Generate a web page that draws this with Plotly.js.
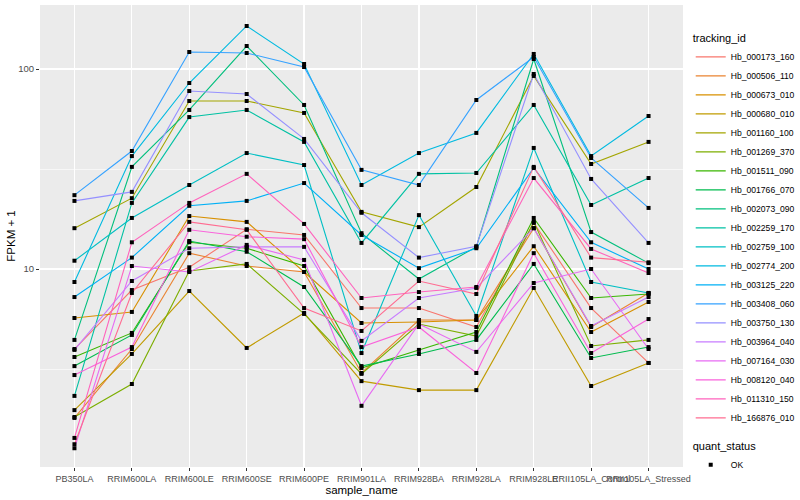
<!DOCTYPE html>
<html>
<head>
<meta charset="utf-8">
<script src="https://cdn.plot.ly/plotly-3.0.1.min.js"></script>
<style>html,body{margin:0;padding:0;background:#fff;}#chart{width:800px;height:500px;}</style>
</head>
<body>
<div id="chart"></div>
<script>
const categories = ['PB350LA','RRIM600LA','RRIM600LE','RRIM600SE','RRIM600PE','RRIM901LA','RRIM928BA','RRIM928LA','RRIM928LE','RRII105LA_Control','RRII105LA_Stressed'];

const trackingIds = ['Hb_000173_160','Hb_000506_110','Hb_000673_010','Hb_000680_010','Hb_001160_100','Hb_001269_370','Hb_001511_090','Hb_001766_070','Hb_002073_090','Hb_002259_170','Hb_002759_100','Hb_002774_200','Hb_003125_220','Hb_003408_060','Hb_003750_130','Hb_003964_040','Hb_007164_030','Hb_008120_040','Hb_011310_150','Hb_166876_010'];

const colors = ['#F8766D','#EA8331','#D89000','#C09B00','#A3A500','#7CAE00','#39B600','#00BB4E','#00BF7D','#00C1A3','#00BFC4','#00BAE0','#00B0F6','#35A2FF','#9590FF','#C77CFF','#E76BF3','#FA62DB','#FF62BC','#FF6C91'];

// FPKM + 1 values, one array per tracking_id, in category order
const hb_000173_160 = [3.98, 7.85, 10.2, 15.8, 14.8, 6.38, 6.38, 5.13, 17.0, 6.38, 3.39];
const hb_000506_110 = [1.80, 3.98, 12.0, 10.35, 9.66, 3.02, 5.56, 5.56, 16.0, 5.13, 7.59];
const hb_000673_010 = [5.69, 6.10, 18.4, 17.2, 9.66, 5.37, 5.43, 5.56, 13.0, 4.84, 6.84];
const hb_000680_010 = [1.97, 3.76, 7.76, 4.03, 6.03, 2.75, 2.48, 2.48, 8.04, 2.60, 3.39];
const hb_001160_100 = [16.0, 22.6, 69.2, 69.2, 60.3, 19.3, 16.2, 25.7, 92.3, 33.5, 43.2];
const hb_001269_370 = [1.82, 2.66, 9.77, 10.6, 5.96, 2.99, 5.31, 4.62, 17.2, 4.12, 4.42];
const hb_001511_090 = [3.63, 4.79, 13.6, 12.7, 10.35, 3.20, 3.94, 4.84, 18.0, 7.16, 7.50];
const hb_001766_070 = [3.27, 4.68, 13.8, 12.2, 8.13, 3.27, 3.76, 4.42, 10.6, 3.59, 4.07];
const hb_002073_090 = [4.42, 32.4, 62.4, 130.3, 66.1, 15.1, 8.91, 12.9, 112.2, 15.3, 10.7];
const hb_002259_170 = [2.32, 21.4, 57.5, 62.4, 43.2, 13.5, 29.9, 30.2, 66.1, 20.9, 28.5];
const hb_002759_100 = [11.0, 18.0, 26.3, 38.0, 33.1, 3.80, 18.6, 5.82, 40.3, 8.61, 7.59];
const hb_002774_200 = [8.61, 36.7, 85.1, 164.1, 105.9, 26.3, 38.0, 47.9, 118.9, 36.7, 58.2];
const hb_003125_220 = [7.24, 11.4, 20.7, 21.9, 26.9, 14.8, 10.1, 12.7, 32.0, 13.6, 10.0];
const hb_003408_060 = [23.4, 38.9, 121.6, 120.2, 102.3, 31.3, 26.3, 70.0, 114.8, 35.9, 20.2];
const hb_003750_130 = [21.9, 24.3, 77.6, 75.0, 44.7, 19.1, 11.4, 13.0, 94.4, 28.2, 13.5];
const hb_003964_040 = [3.94, 8.71, 12.7, 12.9, 12.9, 4.37, 7.16, 8.04, 16.0, 5.19, 7.24];
const hb_007164_030 = [1.27, 10.35, 9.66, 13.2, 11.1, 2.07, 5.31, 3.85, 8.51, 10.0, 3.98];
const hb_008120_040 = [2.95, 4.07, 15.7, 14.5, 14.1, 4.07, 5.13, 3.02, 12.0, 3.80, 5.62];
const hb_011310_150 = [1.43, 13.6, 21.4, 29.9, 16.8, 7.16, 7.67, 8.13, 28.5, 12.6, 9.55];
const hb_166876_010 = [1.33, 7.59, 17.2, 15.7, 6.38, 4.90, 8.71, 7.50, 32.4, 11.4, 10.8];

const seriesValues = [hb_000173_160, hb_000506_110, hb_000673_010, hb_000680_010, hb_001160_100, hb_001269_370, hb_001511_090, hb_001766_070, hb_002073_090, hb_002259_170, hb_002759_100, hb_002774_200, hb_003125_220, hb_003408_060, hb_003750_130, hb_003964_040, hb_007164_030, hb_008120_040, hb_011310_150, hb_166876_010];

const yTickVals = [10, 100];
const yTickText = ['10', '100'];
const yMinorVals = [3.1623, 31.623];

const FONT = 'Liberation Sans, Arial, Helvetica, sans-serif';

const traces = trackingIds.map((id, i) => ({
  type: 'scatter', mode: 'lines', name: id,
  x: categories, y: seriesValues[i],
  line: {color: colors[i], width: 1.1},
  legend: 'legend', hoverinfo: 'skip'
}));

const allX = [], allY = [];
seriesValues.forEach(vals => vals.forEach((v, j) => { allX.push(categories[j]); allY.push(v); }));
traces.push({
  type: 'scatter', mode: 'markers', name: 'OK',
  x: allX, y: allY,
  marker: {symbol: 'square', size: 4, color: '#000000'},
  legend: 'legend2', hoverinfo: 'skip'
});

const layout = {
  width: 800, height: 500,
  margin: {l: 40, r: 117, t: 5, b: 33, autoexpand: false},
  paper_bgcolor: '#FFFFFF', plot_bgcolor: '#EBEBEB',
  font: {family: FONT, color: '#000000'},
  showlegend: true,
  hovermode: false,
  xaxis: {
    type: 'category', range: [-0.6, 10.6],
    tickmode: 'array', tickvals: categories, ticktext: categories,
    showgrid: true, gridcolor: '#FFFFFF', gridwidth: 1.2,
    zeroline: false, showline: false, automargin: false,
    ticks: 'outside', ticklen: 3, tickwidth: 1, tickcolor: '#333333',
    tickangle: 0,
    tickfont: {family: FONT, size: 9, color: '#4D4D4D'},
    title: {text: 'sample_name', font: {family: FONT, size: 11.5, color: '#000000'}, standoff: 0}
  },
  yaxis: {
    type: 'log', range: [0.01, 2.32],
    tickmode: 'array', tickvals: yTickVals, ticktext: yTickText,
    showgrid: true, gridcolor: '#FFFFFF', gridwidth: 1.2,
    minor: {tickmode: 'array', tickvals: yMinorVals, showgrid: true, gridcolor: '#FFFFFF', gridwidth: 0.6, ticks: ''},
    zeroline: false, showline: false, automargin: false,
    ticks: 'outside', ticklen: 3, tickwidth: 1, tickcolor: '#333333',
    tickfont: {family: FONT, size: 9.5, color: '#4D4D4D'},
    title: {text: 'FPKM + 1', font: {family: FONT, size: 11.5, color: '#000000'}, standoff: 0}
  },
  legend: {
    x: 1.012, xanchor: 'left', y: 0.95, yanchor: 'top',
    bgcolor: 'rgba(0,0,0,0)',
    title: {text: 'tracking_id', font: {family: FONT, size: 11, color: '#000000'}},
    font: {family: FONT, size: 8.6, color: '#000000'},
    tracegroupgap: 0
  },
  legend2: {
    x: 1.012, xanchor: 'left', y: 0.067, yanchor: 'top',
    bgcolor: 'rgba(0,0,0,0)',
    title: {text: 'quant_status', font: {family: FONT, size: 11, color: '#000000'}},
    font: {family: FONT, size: 8.6, color: '#000000'}
  }
};

Plotly.newPlot('chart', traces, layout, {staticPlot: true, displayModeBar: false});
</script>
</body>
</html>
